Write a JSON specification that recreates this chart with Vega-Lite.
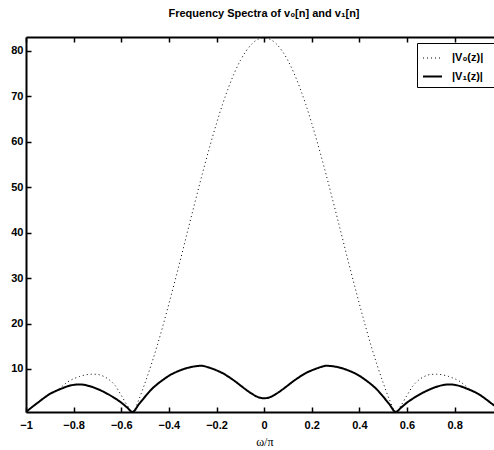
{
  "$schema": "https://vega.github.io/schema/vega-lite/v6.json",
  "width": 468,
  "height": 375,
  "autosize": "none",
  "padding": {"left": 26, "top": 37, "right": 0, "bottom": 38},
  "background": "white",
  "title": {"text": "Frequency Spectra of v₀[n] and v₁[n]", "font": "Liberation Sans", "fontSize": 11, "fontWeight": "bold", "color": "black", "anchor": "middle", "dx": 4, "offset": 8, "baseline": "alphabetic"},
  "config": {"view": {"stroke": null}, "font": "Liberation Sans"},
  "data": {"values": [
    {"w": -1.0, "v0": 0.53, "v1": 0.53},
    {"w": -0.975, "v0": 1.6, "v1": 1.6},
    {"w": -0.95, "v0": 2.6, "v1": 2.6},
    {"w": -0.925, "v0": 3.6, "v1": 3.6},
    {"w": -0.9, "v0": 4.5, "v1": 4.5},
    {"w": -0.875, "v0": 5.15, "v1": 5.15},
    {"w": -0.85, "v0": 6.1, "v1": 5.7},
    {"w": -0.825, "v0": 7.15, "v1": 6.2},
    {"w": -0.8, "v0": 7.85, "v1": 6.5},
    {"w": -0.775, "v0": 8.35, "v1": 6.6},
    {"w": -0.75, "v0": 8.7, "v1": 6.45},
    {"w": -0.725, "v0": 8.85, "v1": 6.1},
    {"w": -0.7, "v0": 8.8, "v1": 5.6},
    {"w": -0.675, "v0": 8.4, "v1": 5.0},
    {"w": -0.65, "v0": 7.6, "v1": 4.3},
    {"w": -0.625, "v0": 6.3, "v1": 3.5},
    {"w": -0.6, "v0": 4.2, "v1": 2.6},
    {"w": -0.575, "v0": 2.0, "v1": 1.5},
    {"w": -0.553, "v0": 0.53, "v1": 0.55},
    {"w": -0.525, "v0": 3.42, "v1": 2.3},
    {"w": -0.5, "v0": 6.95, "v1": 3.9},
    {"w": -0.475, "v0": 10.78, "v1": 5.4},
    {"w": -0.45, "v0": 14.97, "v1": 6.6},
    {"w": -0.425, "v0": 19.51, "v1": 7.6},
    {"w": -0.4, "v0": 24.32, "v1": 8.5},
    {"w": -0.375, "v0": 29.27, "v1": 9.2},
    {"w": -0.35, "v0": 34.37, "v1": 9.75},
    {"w": -0.325, "v0": 39.57, "v1": 10.2},
    {"w": -0.3, "v0": 44.74, "v1": 10.5},
    {"w": -0.275, "v0": 49.85, "v1": 10.68},
    {"w": -0.26, "v0": 52.85, "v1": 10.7},
    {"w": -0.25, "v0": 54.83, "v1": 10.6},
    {"w": -0.225, "v0": 59.57, "v1": 10.2},
    {"w": -0.2, "v0": 64.05, "v1": 9.7},
    {"w": -0.175, "v0": 68.21, "v1": 9.1},
    {"w": -0.15, "v0": 71.9, "v1": 8.3},
    {"w": -0.125, "v0": 75.16, "v1": 7.4},
    {"w": -0.1, "v0": 77.89, "v1": 6.4},
    {"w": -0.075, "v0": 80.05, "v1": 5.4},
    {"w": -0.05, "v0": 81.63, "v1": 4.5},
    {"w": -0.025, "v0": 82.58, "v1": 3.8},
    {"w": 0, "v0": 82.9, "v1": 3.55},
    {"w": 0.025, "v0": 82.58, "v1": 3.8},
    {"w": 0.05, "v0": 81.63, "v1": 4.5},
    {"w": 0.075, "v0": 80.05, "v1": 5.4},
    {"w": 0.1, "v0": 77.89, "v1": 6.4},
    {"w": 0.125, "v0": 75.16, "v1": 7.4},
    {"w": 0.15, "v0": 71.9, "v1": 8.3},
    {"w": 0.175, "v0": 68.21, "v1": 9.1},
    {"w": 0.2, "v0": 64.05, "v1": 9.7},
    {"w": 0.225, "v0": 59.57, "v1": 10.2},
    {"w": 0.25, "v0": 54.83, "v1": 10.6},
    {"w": 0.26, "v0": 52.85, "v1": 10.7},
    {"w": 0.275, "v0": 49.85, "v1": 10.68},
    {"w": 0.3, "v0": 44.74, "v1": 10.5},
    {"w": 0.325, "v0": 39.57, "v1": 10.2},
    {"w": 0.35, "v0": 34.37, "v1": 9.75},
    {"w": 0.375, "v0": 29.27, "v1": 9.2},
    {"w": 0.4, "v0": 24.32, "v1": 8.5},
    {"w": 0.425, "v0": 19.51, "v1": 7.6},
    {"w": 0.45, "v0": 14.97, "v1": 6.6},
    {"w": 0.475, "v0": 10.78, "v1": 5.4},
    {"w": 0.5, "v0": 6.95, "v1": 3.9},
    {"w": 0.525, "v0": 3.42, "v1": 2.3},
    {"w": 0.553, "v0": 0.53, "v1": 0.55},
    {"w": 0.575, "v0": 2.0, "v1": 1.5},
    {"w": 0.6, "v0": 4.2, "v1": 2.6},
    {"w": 0.625, "v0": 6.3, "v1": 3.5},
    {"w": 0.65, "v0": 7.6, "v1": 4.3},
    {"w": 0.675, "v0": 8.4, "v1": 5.0},
    {"w": 0.7, "v0": 8.8, "v1": 5.6},
    {"w": 0.725, "v0": 8.85, "v1": 6.1},
    {"w": 0.75, "v0": 8.7, "v1": 6.45},
    {"w": 0.775, "v0": 8.35, "v1": 6.6},
    {"w": 0.8, "v0": 7.85, "v1": 6.5},
    {"w": 0.825, "v0": 7.15, "v1": 6.2},
    {"w": 0.85, "v0": 6.1, "v1": 5.7},
    {"w": 0.875, "v0": 5.15, "v1": 5.15},
    {"w": 0.9, "v0": 4.5, "v1": 4.5},
    {"w": 0.925, "v0": 3.6, "v1": 3.6},
    {"w": 0.95, "v0": 2.6, "v1": 2.6},
    {"w": 0.975, "v0": 1.6, "v1": 1.6},
    {"w": 1.0, "v0": 0.53, "v1": 0.53}
  ]},
  "transform": [{"fold": ["v0", "v1"], "as": ["series", "mag"]}],
  "layer": [
    {
      "mark": {"type": "line", "clip": true, "interpolate": "monotone", "color": "black"},
      "encoding": {
        "x": {"field": "w", "type": "quantitative",
          "scale": {"domain": [-1, 0.9653], "nice": false, "zero": false},
          "axis": {"orient": "bottom", "values": [-1, -0.8, -0.6, -0.4, -0.2, 0, 0.2, 0.4, 0.6, 0.8], "format": ".1~f",
            "tickSize": -5, "tickWidth": 1.5, "tickColor": "black", "domainColor": "black", "domainWidth": 2, "grid": false,
            "labelFont": "Liberation Sans", "labelFontSize": 11, "labelFontWeight": "bold", "labelColor": "black",
            "labelPadding": 12, "labelFlush": false, "labelOverlap": false,
            "title": "ω/π", "titleFont": "Liberation Serif", "titleFontSize": 12, "titleFontWeight": "normal", "titleColor": "black",
            "titleX": 238.3, "titleY": 29, "titleBaseline": "middle", "titleAnchor": null}},
        "y": {"field": "mag", "type": "quantitative",
          "scale": {"domain": [0.53, 83.08], "nice": false, "zero": false},
          "axis": {"orient": "left", "values": [10, 20, 30, 40, 50, 60, 70, 80],
            "tickSize": -5, "tickWidth": 1.5, "tickColor": "black", "domainColor": "black", "domainWidth": 2, "grid": false,
            "labelFont": "Liberation Sans", "labelFontSize": 11, "labelFontWeight": "bold", "labelColor": "black",
            "labelPadding": 8, "title": null}},
        "strokeDash": {"field": "series", "type": "nominal",
          "scale": {"domain": ["v0", "v1"], "range": [[1, 3], [1, 0]]},
          "legend": {"orient": "none", "legendX": 391, "legendY": 6, "title": null, "strokeColor": "black",
            "fillColor": "white", "padding": 5, "symbolType": "stroke", "symbolSize": 361, "symbolStrokeColor": "black",
            "labelFont": "Liberation Sans", "labelFontSize": 11, "labelFontWeight": "bold", "labelColor": "black",
            "labelOffset": 9, "rowPadding": 3, "labelLimit": 0,
            "labelExpr": "datum.label == 'v0' ? '|V₀(z)|\u2800\u2800\u2800\u2800' : '|V₁(z)|\u2800\u2800\u2800\u2800'"}},
        "strokeWidth": {"field": "series", "type": "nominal",
          "scale": {"domain": ["v0", "v1"], "range": [1, 2]},
          "legend": {"orient": "none", "legendX": 391, "legendY": 6, "title": null, "strokeColor": "black",
            "fillColor": "white", "padding": 5, "symbolType": "stroke", "symbolSize": 361, "symbolStrokeColor": "black",
            "labelFont": "Liberation Sans", "labelFontSize": 11, "labelFontWeight": "bold", "labelColor": "black",
            "labelOffset": 9, "rowPadding": 3, "labelLimit": 0,
            "labelExpr": "datum.label == 'v0' ? '|V₀(z)|\u2800\u2800\u2800\u2800' : '|V₁(z)|\u2800\u2800\u2800\u2800'"}}
      }
    },
    {
      "mark": {"type": "line", "opacity": 0, "clip": true},
      "encoding": {
        "x": {"field": "w", "type": "quantitative",
          "axis": {"orient": "top", "values": [-1, -0.8, -0.6, -0.4, -0.2, 0, 0.2, 0.4, 0.6, 0.8],
            "tickSize": -5, "tickWidth": 1.5, "tickColor": "black", "domainColor": "black", "domainWidth": 2, "grid": false,
            "labels": false, "title": null}},
        "y": {"field": "mag", "type": "quantitative", "axis": null},
        "detail": {"field": "series", "type": "nominal"}
      }
    }
  ],
  "resolve": {"axis": {"x": "independent", "y": "independent"}}
}
